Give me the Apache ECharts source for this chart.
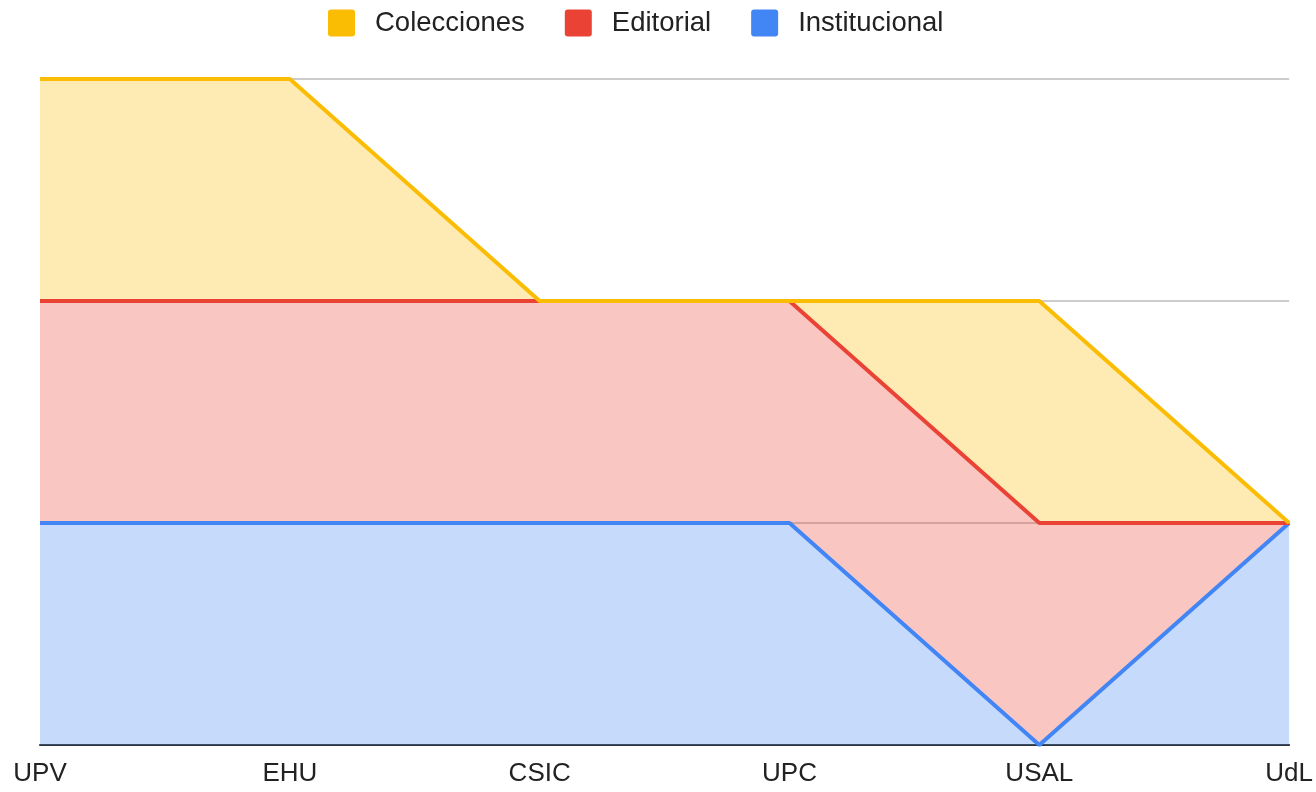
<!DOCTYPE html>
<html>
<head>
<meta charset="utf-8">
<script src="https://cdn.jsdelivr.net/npm/echarts@6/dist/echarts.min.js"></script>
<style>
  html, body { margin: 0; padding: 0; background: #fff; }
  #main { width: 1316px; height: 792px; }
</style>
</head>
<body>
<div id="main"></div>
<script>
// categorias del eje x
var categories = ["UPV", "EHU", "CSIC", "UPC", "USAL", "UdL"];
// valores apilados (de abajo hacia arriba: Institucional, Editorial, Colecciones)
var institucional = [1, 1, 1, 1, 0, 1];
var editorial = [1, 1, 1, 1, 1, 0];
var colecciones = [1, 1, 0, 0, 1, 0];
var legendNames = ["Colecciones", "Editorial", "Institucional"];

var myChart = echarts.init(document.getElementById("main"));

function areaSerie(name, data, color) {
  return {
    name: name,
    type: "line",
    stack: "total",
    data: data,
    symbol: "none",
    lineStyle: { color: color, width: 4 },
    itemStyle: { color: color },
    areaStyle: { color: color, opacity: 0.3 },
  };
}

var option = {
  animation: false,
  textStyle: { fontFamily: "'Liberation Sans', Arial, sans-serif" },
  legend: {
    data: legendNames,
    top: 4,
    left: 323,
    padding: 5,
    itemWidth: 27,
    itemHeight: 27,
    itemGap: 40,
    icon: "path://M3,0 L24,0 Q27,0 27,3 L27,24 Q27,27 24,27 L3,27 Q0,27 0,24 L0,3 Q0,0 3,0 Z",
    textStyle: { fontSize: 27.5, color: "#222222", padding: [0, 0, 0, 15] },
  },
  grid: {
    left: 40,
    right: 26,
    top: 79,
    bottom: 47,
  },
  xAxis: {
    type: "category",
    boundaryGap: false,
    data: categories,
    axisTick: { show: false },
    axisLine: { show: true, lineStyle: { color: "#333333", width: 2 } },
    axisLabel: { color: "#222222", fontSize: 26, margin: 16 },
  },
  yAxis: {
    type: "value",
    min: 0,
    max: 3,
    interval: 1,
    axisLabel: { show: false },
    axisLine: { show: false },
    axisTick: { show: false },
    splitLine: { lineStyle: { color: "#cccccc", width: 2 } },
  },
  series: [
    areaSerie("Institucional", institucional, "#4285F4"),
    areaSerie("Editorial", editorial, "#EA4335"),
    areaSerie("Colecciones", colecciones, "#FBBC04"),
  ],
};
myChart.setOption(option);
</script>
</body>
</html>
